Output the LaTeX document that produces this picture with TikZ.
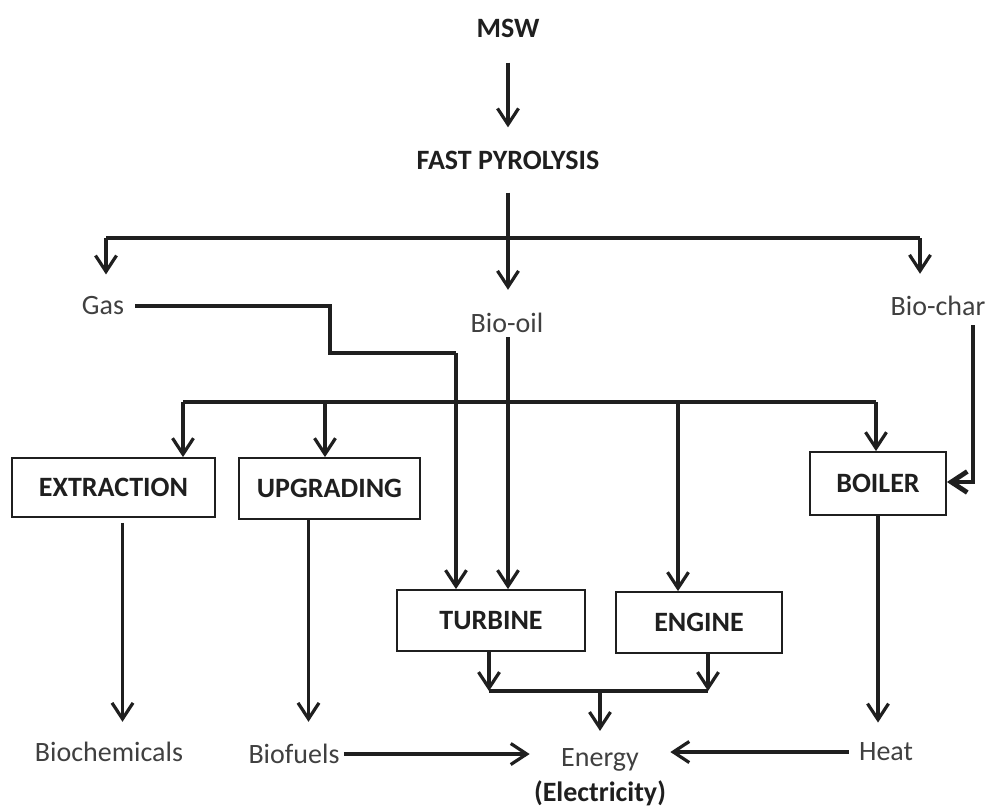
\documentclass[tikz,border=0pt]{standalone}
\usepackage{fontspec}
\setmainfont{Carlito}
\usepackage{xcolor}
\usetikzlibrary{arrows.meta}
\definecolor{ink}{rgb}{0.12,0.12,0.12}
\definecolor{txt}{rgb}{0.25,0.25,0.25}

\begin{document}
\begin{tikzpicture}
    \def\dx{0.5pt}
    \def\dy{-0.5pt}

    \tikzstyle{txtnode}=[font=\fontsize{14}{17.5}\selectfont,text=txt,inner sep=2pt]
    \tikzstyle{boldnode}=[txtnode,font=\fontsize{14}{17.5}\selectfont\bfseries,text=ink]
    \tikzstyle{procbox}=[boldnode,draw=ink,line width=0.9pt]

    \useasboundingbox (0*\dx,0*\dy) rectangle (1004*\dx,809*\dy);

    \node[boldnode]  (msw) at (508*\dx,28*\dy) {MSW};
    \node[boldnode]  (fast) at (508*\dx,160*\dy) {FAST PYROLYSIS};
    \node[txtnode]  (gas) at (103*\dx,306*\dy) {Gas};
    \node[txtnode]  (biooil) at (507*\dx,323*\dy) {Bio-oil};
    \node[txtnode]  (biochar) at (938*\dx,306*\dy) {Bio-char};
    \node[procbox,minimum width=101.5pt,minimum height=29.5pt]  (extraction) at (113.5*\dx,487.5*\dy) {EXTRACTION};
    \node[procbox,minimum width=90.5pt,minimum height=30.5pt]  (upgrading) at (329.5*\dx,488.5*\dy) {UPGRADING};
    \node[procbox,minimum width=68pt,minimum height=31.5pt]  (boiler) at (878*\dx,483.5*\dy) {BOILER};
    \node[procbox,minimum width=94pt,minimum height=30.5pt]  (turbine) at (491*\dx,620.5*\dy) {TURBINE};
    \node[procbox,minimum width=83pt,minimum height=30.5pt]  (engine) at (699*\dx,622.5*\dy) {ENGINE};
    \node[txtnode]  (biochem) at (109*\dx,752*\dy) {Biochemicals};
    \node[txtnode]  (biofuels) at (294*\dx,754*\dy) {Biofuels};
    \node[txtnode,align=center]  (energy) at (600*\dx,777*\dy) {Energy\\\textbf{\color{ink}(Electricity)}};
    \node[txtnode]  (heat) at (886*\dx,752*\dy) {Heat};

    % junctions
    \coordinate (s1) at (508*\dx,238*\dy);
    \coordinate (jgas) at (106*\dx,238*\dy);
    \coordinate (jchar) at (920*\dx,238*\dy);
    \coordinate (g1) at (330*\dx,306*\dy);
    \coordinate (g2) at (456*\dx,353*\dy);
    \coordinate (s2) at (508*\dx,402*\dy);
    \coordinate (d1) at (183*\dx,402*\dy);
    \coordinate (d2) at (325*\dx,402*\dy);
    \coordinate (d3) at (678*\dx,402*\dy);
    \coordinate (d4) at (876*\dx,402*\dy);
    \coordinate (c1) at (973*\dx,482*\dy);
    \coordinate (e1) at (489*\dx,691*\dy);
    \coordinate (e2) at (708*\dx,691*\dy);
    \coordinate (e3) at (600*\dx,691*\dy);
    \coordinate (x1) at ([xshift=4.5pt]extraction.south);
    \coordinate (x2) at ([xshift=-10.5pt]upgrading.south);

    \tikzstyle{tip} = [-{Straight Barb[length=8pt,width=10.5pt]}]
    \tikzstyle{fwd} = [draw=ink, line width=1.6pt, tip]
    \tikzstyle{bar} = [draw=ink, line width=2.4pt]

          \draw [fwd,shorten <=10.5pt,shorten >=9.5pt] (msw) -- (fast);
          \draw [bar,shorten <=9.5pt] (fast) -- (s1);
          \draw [bar] (jgas) -- (jchar);
          \draw [fwd,shorten >=9pt] (jgas) -- (jgas |- gas.north);
          \draw [fwd,shorten >=9.5pt] (s1) -- (s1 |- biooil.north);
          \draw [fwd,shorten >=9pt] (jchar) -- (jchar |- biochar.north);
          \draw [bar,shorten <=3.5pt] (gas) -- (g1) |- (g2);
          \draw [fwd] (g2) -- (g2 |- turbine.north);
          \draw [bar] (s2 |- biooil.south) -- (s2);
          \draw [fwd] (s2) -- (s2 |- turbine.north);
          \draw [bar] (d1) -- (d4);
          \draw [fwd] (d1) -- (d1 |- extraction.north);
          \draw [fwd] (d2) -- (d2 |- upgrading.north);
          \draw [fwd] (d3) -- (d3 |- engine.north);
          \draw [fwd] (d4) -- (d4 |- boiler.north);
          \draw [bar,tip,shorten <=2.5pt] (c1 |- biochar.south) -- (c1) -- (c1 -| boiler.east);
          \draw [fwd,shorten <=2.5pt,shorten >=8pt] (x1) -- (x1 |- biochem.north);
          \draw [fwd,shorten >=9pt] (x2) -- (x2 |- biofuels.north);
          \draw [fwd,shorten >=8pt] (boiler.south) -- (boiler.south |- heat.north);
          \draw [fwd] (e1 |- turbine.south) -- (e1);
          \draw [fwd] (e2 |- engine.south) -- (e2);
          \draw [bar] (e1) -- (e2);
          \draw [fwd,shorten >=6.5pt] (e3) -- (e3 |- energy.north);
          \draw [fwd] (biofuels.east) -- (biofuels.east -| energy.west);
          \draw [fwd,shorten <=3pt] (heat.west) -- (heat.west -| energy.east);

  \end{tikzpicture}
\end{document}
